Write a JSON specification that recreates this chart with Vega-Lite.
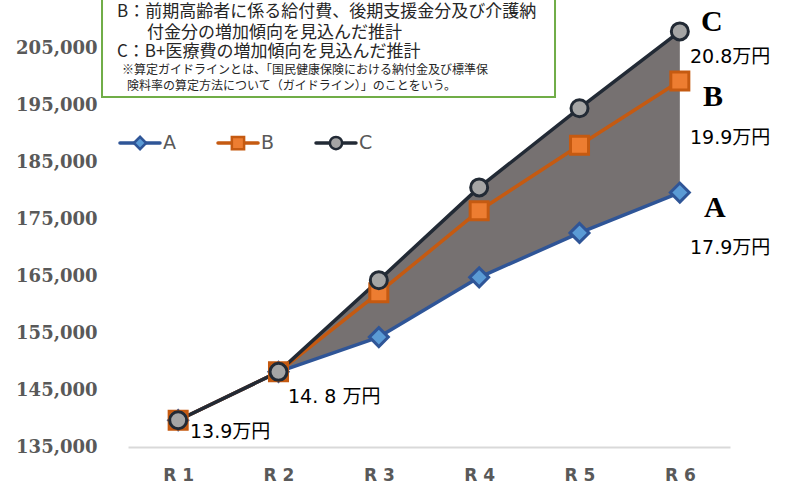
{
  "$schema": "https://vega.github.io/schema/vega-lite/v6.json",
  "width": 602,
  "height": 427,
  "autosize": {"type": "none"},
  "padding": {"left": 128, "top": 20, "right": 59, "bottom": 44},
  "background": "white",
  "config": {"view": {"stroke": null}},
  "datasets": {
    "series": [
      {"period": "R1", "idx": 1, "series": "A", "value": 139700},
      {"period": "R2", "idx": 2, "series": "A", "value": 148200},
      {"period": "R3", "idx": 3, "series": "A", "value": 154300},
      {"period": "R4", "idx": 4, "series": "A", "value": 164800},
      {"period": "R5", "idx": 5, "series": "A", "value": 172600},
      {"period": "R6", "idx": 6, "series": "A", "value": 179700},
      {"period": "R1", "idx": 1, "series": "B", "value": 139700},
      {"period": "R2", "idx": 2, "series": "B", "value": 148200},
      {"period": "R3", "idx": 3, "series": "B", "value": 162100},
      {"period": "R4", "idx": 4, "series": "B", "value": 176500},
      {"period": "R5", "idx": 5, "series": "B", "value": 188000},
      {"period": "R6", "idx": 6, "series": "B", "value": 199300},
      {"period": "R1", "idx": 1, "series": "C", "value": 139700},
      {"period": "R2", "idx": 2, "series": "C", "value": 148200},
      {"period": "R3", "idx": 3, "series": "C", "value": 164300},
      {"period": "R4", "idx": 4, "series": "C", "value": 180600},
      {"period": "R5", "idx": 5, "series": "C", "value": 194500},
      {"period": "R6", "idx": 6, "series": "C", "value": 208000}
    ],
    "legend": [
      {"series": "A", "xa": 0.42, "xb": 0.819, "xp": 0.62, "xl": 0.849, "y": 188395},
      {"series": "B", "xa": 1.397, "xb": 1.796, "xp": 1.596, "xl": 1.826, "y": 188395},
      {"series": "C", "xa": 2.374, "xb": 2.772, "xp": 2.573, "xl": 2.802, "y": 188395}
    ],
    "box": [{"x1": 0.241, "x2": 4.756, "y1": 196474, "y2": 216000}],
    "boxText": [
      {"x": 0.39, "y": 211400, "t": "B：前期高齢者に係る給付費、後期支援金分及び介護納"},
      {"x": 0.689, "y": 207716, "t": "付金分の増加傾向を見込んだ推計"},
      {"x": 0.39, "y": 204378, "t": "C：B+医療費の増加傾向を見込んだ推計"}
    ],
    "noteText": [
      {"x": 0.44, "y": 201216, "t": "※算定ガイドラインとは、「国民健康保険における納付金及び標準保"},
      {"x": 0.49, "y": 198406, "t": "険料率の算定方法について（ガイドライン）」のことをいう。"}
    ],
    "valueLabels": [
      {"x": 1.118, "y": 137632, "t": "13.9万円"},
      {"x": 2.095, "y": 143772, "t": "14. 8 万円"},
      {"x": 6.101, "y": 203421, "t": "20.8万円"},
      {"x": 6.101, "y": 189211, "t": "19.9万円"},
      {"x": 6.101, "y": 169893, "t": "17.9万円"}
    ],
    "letters": [
      {"x": 6.21, "y": 209700, "t": "C"},
      {"x": 6.23, "y": 196400, "t": "B"},
      {"x": 6.24, "y": 177000, "t": "A"}
    ]
  },
  "layer": [
    {
      "data": {"name": "series"},
      "transform": [{"pivot": "series", "value": "value", "groupby": ["idx"]}],
      "mark": {"type": "area", "color": "#767171", "opacity": 1},
      "encoding": {
        "x": {"field": "idx", "type": "quantitative", "title": null,
              "scale": {"domain": [0.5, 6.5], "nice": false, "zero": false},
              "axis": {"values": [1, 2, 3, 4, 5, 6], "labelExpr": "'R ' + datum.value", "domainColor": "#D9D9D9", "domainWidth": 2, "ticks": false, "grid": false, "labelFont": "DejaVu Sans", "labelFontWeight": "bold", "labelFontSize": 17, "labelColor": "#595959", "labelPadding": 20}},
        "y": {"field": "A", "type": "quantitative", "title": null,
              "scale": {"domain": [135000, 210000], "nice": false, "zero": false},
              "axis": {"values": [135000, 145000, 155000, 165000, 175000, 185000, 195000, 205000], "labelExpr": "format(datum.value, ',')", "domain": false, "ticks": false, "grid": false, "labelFont": "DejaVu Serif", "labelFontWeight": "bold", "labelFontSize": 18, "labelColor": "#595959", "labelPadding": 31}},
        "y2": {"field": "C"}
      }
    },
    {
      "data": {"name": "series"},
      "mark": {"type": "line", "strokeJoin": "round"},
      "encoding": {
        "x": {"field": "idx", "type": "quantitative", "title": null, "scale": {"domain": [0.5, 6.5], "nice": false, "zero": false}},
        "y": {"field": "value", "type": "quantitative", "title": null, "scale": {"domain": [135000, 210000], "nice": false, "zero": false}},
        "stroke": {"field": "series", "type": "nominal",
                   "scale": {"domain": ["A", "B", "C"], "range": ["#2F5597", "#C55A11", "#222A35"]},
                   "legend": null},
        "strokeWidth": {"field": "series", "type": "nominal", "scale": {"domain": ["A", "B", "C"], "range": [3.5, 3.5, 4.5]}, "legend": null}
      }
    },
    {
      "data": {"name": "series"},
      "mark": {"type": "point", "opacity": 1, "fillOpacity": 1, "strokeWidth": 3},
      "encoding": {
        "x": {"field": "idx", "type": "quantitative", "title": null, "scale": {"domain": [0.5, 6.5], "nice": false, "zero": false}},
        "y": {"field": "value", "type": "quantitative", "title": null, "scale": {"domain": [135000, 210000], "nice": false, "zero": false}},
        "stroke": {"field": "series", "type": "nominal", "legend": null},
        "fill": {"field": "series", "type": "nominal",
                 "scale": {"domain": ["A", "B", "C"], "range": ["#5B9BD5", "#ED7D31", "#A5A5A5"]},
                 "legend": null},
        "shape": {"field": "series", "type": "nominal",
                  "scale": {"domain": ["A", "B", "C"], "range": ["diamond", "square", "circle"]},
                  "legend": null},
        "size": {"field": "series", "type": "nominal", "scale": {"domain": ["A", "B", "C"], "range": [361, 289, 324]}, "legend": null}
      }
    },
    {
      "data": {"name": "legend"},
      "mark": {"type": "rule", "strokeWidth": 3.5, "strokeCap": "round"},
      "encoding": {
        "x": {"field": "xa", "type": "quantitative", "title": null, "scale": {"domain": [0.5, 6.5], "nice": false, "zero": false}},
        "x2": {"field": "xb"},
        "y": {"field": "y", "type": "quantitative", "title": null, "scale": {"domain": [135000, 210000], "nice": false, "zero": false}},
        "stroke": {"field": "series", "type": "nominal", "legend": null}
      }
    },
    {
      "data": {"name": "legend"},
      "mark": {"type": "point", "opacity": 1, "fillOpacity": 1, "strokeWidth": 2.5, "size": 150},
      "encoding": {
        "x": {"field": "xp", "type": "quantitative", "title": null, "scale": {"domain": [0.5, 6.5], "nice": false, "zero": false}},
        "y": {"field": "y", "type": "quantitative", "title": null, "scale": {"domain": [135000, 210000], "nice": false, "zero": false}},
        "stroke": {"field": "series", "type": "nominal", "legend": null},
        "fill": {"field": "series", "type": "nominal", "legend": null},
        "shape": {"field": "series", "type": "nominal", "legend": null}
      }
    },
    {
      "data": {"name": "legend"},
      "mark": {"type": "text", "align": "left", "baseline": "middle", "font": "DejaVu Sans", "fontSize": 19, "color": "#595959"},
      "encoding": {
        "x": {"field": "xl", "type": "quantitative", "title": null, "scale": {"domain": [0.5, 6.5], "nice": false, "zero": false}},
        "y": {"field": "y", "type": "quantitative", "title": null, "scale": {"domain": [135000, 210000], "nice": false, "zero": false}},
        "text": {"field": "series"}
      }
    },
    {
      "data": {"name": "box"},
      "mark": {"type": "rect", "fill": "white", "stroke": "#70AD47", "strokeWidth": 2},
      "encoding": {
        "x": {"field": "x1", "type": "quantitative", "title": null, "scale": {"domain": [0.5, 6.5], "nice": false, "zero": false}},
        "x2": {"field": "x2"},
        "y": {"field": "y1", "type": "quantitative", "title": null, "scale": {"domain": [135000, 210000], "nice": false, "zero": false}},
        "y2": {"field": "y2"}
      }
    },
    {
      "data": {"name": "boxText"},
      "mark": {"type": "text", "align": "left", "baseline": "middle", "font": "Noto Sans CJK JP", "fontSize": 17, "color": "#262626"},
      "encoding": {
        "x": {"field": "x", "type": "quantitative", "title": null, "scale": {"domain": [0.5, 6.5], "nice": false, "zero": false}},
        "y": {"field": "y", "type": "quantitative", "title": null, "scale": {"domain": [135000, 210000], "nice": false, "zero": false}},
        "text": {"field": "t"}
      }
    },
    {
      "data": {"name": "noteText"},
      "mark": {"type": "text", "align": "left", "baseline": "middle", "font": "Noto Sans CJK JP", "fontSize": 12, "color": "#262626"},
      "encoding": {
        "x": {"field": "x", "type": "quantitative", "title": null, "scale": {"domain": [0.5, 6.5], "nice": false, "zero": false}},
        "y": {"field": "y", "type": "quantitative", "title": null, "scale": {"domain": [135000, 210000], "nice": false, "zero": false}},
        "text": {"field": "t"}
      }
    },
    {
      "data": {"name": "valueLabels"},
      "mark": {"type": "text", "align": "left", "baseline": "middle", "font": "DejaVu Sans, Noto Sans CJK JP", "fontSize": 19, "color": "#000000"},
      "encoding": {
        "x": {"field": "x", "type": "quantitative", "title": null, "scale": {"domain": [0.5, 6.5], "nice": false, "zero": false}},
        "y": {"field": "y", "type": "quantitative", "title": null, "scale": {"domain": [135000, 210000], "nice": false, "zero": false}},
        "text": {"field": "t"}
      }
    },
    {
      "data": {"name": "letters"},
      "mark": {"type": "text", "align": "left", "baseline": "middle", "font": "Liberation Serif", "fontWeight": "bold", "fontSize": 30, "color": "#000000"},
      "encoding": {
        "x": {"field": "x", "type": "quantitative", "title": null, "scale": {"domain": [0.5, 6.5], "nice": false, "zero": false}},
        "y": {"field": "y", "type": "quantitative", "title": null, "scale": {"domain": [135000, 210000], "nice": false, "zero": false}},
        "text": {"field": "t"}
      }
    }
  ]
}
